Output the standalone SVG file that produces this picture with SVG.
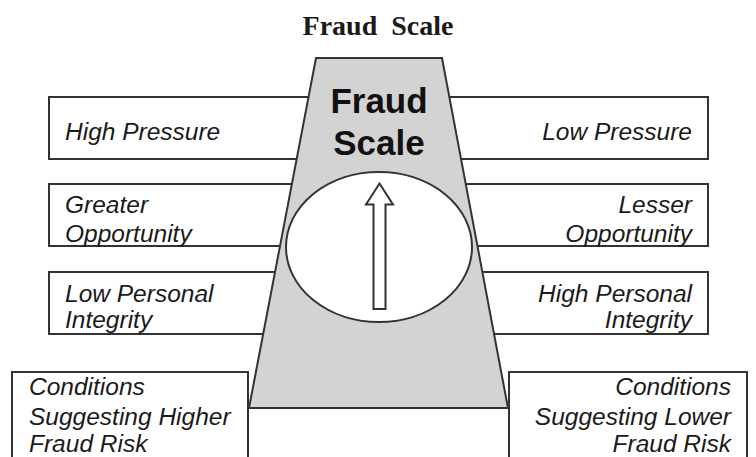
<svg xmlns="http://www.w3.org/2000/svg" width="756" height="457" viewBox="0 0 756 457">
  <style>
    .box { fill: #ffffff; stroke: #333333; stroke-width: 2; }
    .lbl { font-family: "Liberation Sans", Arial, sans-serif; font-style: italic; font-size: 24.5px; fill: #1a1a1a; }
    .end { text-anchor: end; }
    .head { font-family: "Liberation Sans", Arial, sans-serif; font-weight: bold; font-size: 35px; fill: #111111; text-anchor: middle; }
    .title { font-family: "Liberation Serif", "Times New Roman", serif; font-weight: bold; font-size: 28px; fill: #1a1a1a; text-anchor: middle; word-spacing: 7px; }
  </style>

  <rect width="756" height="457" fill="#ffffff"/>

  <text class="title" x="378" y="35">Fraud Scale</text>

  <!-- left-hand factor boxes (run under the scale body) -->
  <g id="high-pressure">
    <rect class="box" x="49" y="97" width="300" height="62"/>
    <text class="lbl" x="65" y="140">High Pressure</text>
  </g>
  <g id="greater-opportunity">
    <rect class="box" x="49" y="184" width="300" height="62"/>
    <text class="lbl" x="65" y="213">Greater</text>
    <text class="lbl" x="65" y="241.5">Opportunity</text>
  </g>
  <g id="low-integrity">
    <rect class="box" x="49" y="272" width="300" height="62"/>
    <text class="lbl" x="65" y="301.5">Low Personal</text>
    <text class="lbl" x="65" y="328">Integrity</text>
  </g>

  <!-- right-hand factor boxes -->
  <g id="low-pressure">
    <rect class="box" x="410" y="97" width="298" height="62"/>
    <text class="lbl end" x="692" y="140">Low Pressure</text>
  </g>
  <g id="lesser-opportunity">
    <rect class="box" x="410" y="184" width="298" height="62"/>
    <text class="lbl end" x="692" y="213">Lesser</text>
    <text class="lbl end" x="692" y="241.5">Opportunity</text>
  </g>
  <g id="high-integrity">
    <rect class="box" x="410" y="272" width="298" height="62"/>
    <text class="lbl end" x="692" y="301.5">High Personal</text>
    <text class="lbl end" x="692" y="328">Integrity</text>
  </g>

  <!-- scale body -->
  <g id="scale">
    <polygon points="316,58 442,58 508,408 249,408" fill="#d3d3d3" stroke="#333333" stroke-width="2" stroke-linejoin="miter"/>
    <text class="head" x="379" y="113">Fraud</text>
    <text class="head" x="379" y="155">Scale</text>
    <ellipse cx="379" cy="247" rx="93" ry="75" fill="#ffffff" stroke="#333333" stroke-width="2"/>
    <polygon points="379.5,183.5 393,204.5 385.5,204.5 385.5,309 373.5,309 373.5,204.5 366,204.5" fill="#ffffff" stroke="#333333" stroke-width="2" stroke-linejoin="miter"/>
  </g>

  <!-- bottom summary boxes -->
  <g id="higher-risk">
    <rect class="box" x="12" y="372" width="236" height="100"/>
    <text class="lbl" x="29" y="395">Conditions</text>
    <text class="lbl" x="29" y="424.5">Suggesting Higher</text>
    <text class="lbl" x="29" y="452">Fraud Risk</text>
  </g>
  <g id="lower-risk">
    <rect class="box" x="509" y="372" width="238" height="100"/>
    <text class="lbl end" x="731" y="395">Conditions</text>
    <text class="lbl end" x="731" y="424.5">Suggesting Lower</text>
    <text class="lbl end" x="731" y="452">Fraud Risk</text>
  </g>

  <g id="connectors"/>
</svg>
